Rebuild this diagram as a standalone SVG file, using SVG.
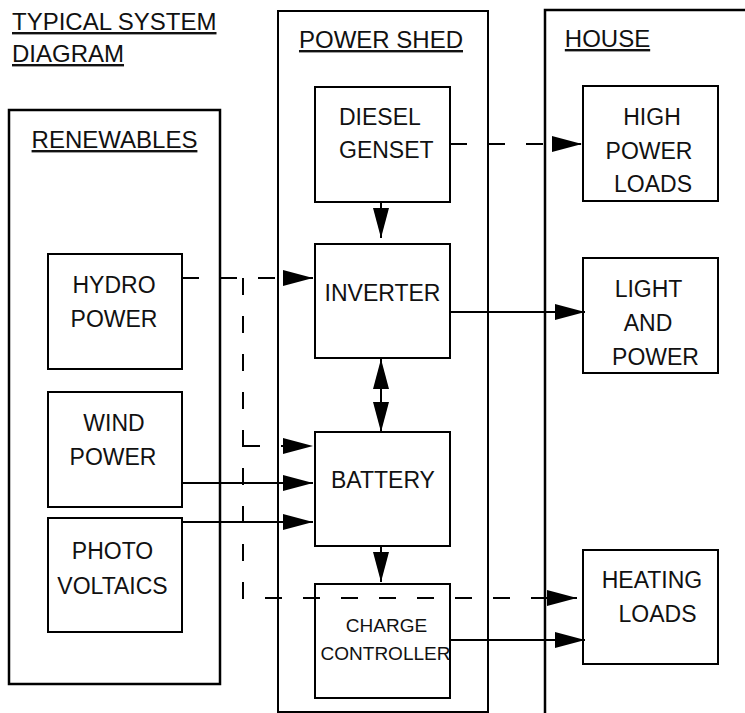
<svg xmlns="http://www.w3.org/2000/svg" width="745" height="713" viewBox="0 0 745 713">
<defs>
<style>
.box{fill:none;stroke:#000;stroke-width:2}
.frame{fill:none;stroke:#000;stroke-width:2.5}
text{font-family:"Liberation Sans",Arial,sans-serif;font-size:23px;fill:#111}
.h{font-size:24px;text-decoration:underline}
.m{text-anchor:middle}
.small{font-size:19px}
.ln{fill:none;stroke:#000;stroke-width:2}
.dash{stroke-dasharray:17 21}
</style>
<marker id="ah" viewBox="0 0 30 16" markerWidth="30" markerHeight="16" refX="30" refY="8" orient="auto-start-reverse" markerUnits="userSpaceOnUse">
<path d="M0,0 L30,8 L0,16 Z" fill="#000"/>
</marker>
</defs>
<rect width="745" height="713" fill="#fff"/>

<g id="title">
<text class="h" x="12" y="30">TYPICAL SYSTEM</text>
<text class="h" x="12" y="62">DIAGRAM</text>
</g>

<g id="renewables">
<rect class="frame" x="9" y="110" width="211" height="574"/>
<text class="h m" x="114.5" y="148">RENEWABLES</text>
</g>

<g id="power-shed">
<rect class="box" x="278" y="11" width="210" height="701"/>
<text class="h m" x="381" y="48">POWER SHED</text>
</g>

<g id="house">
<path class="frame" d="M545,713 V10 H745"/>
<text class="h m" x="607.5" y="47">HOUSE</text>
</g>

<g id="hydro-power">
<rect class="box" x="48" y="254" width="134" height="115"/>
<text class="m" x="114" y="293">HYDRO</text>
<text class="m" x="114" y="327">POWER</text>
</g>

<g id="wind-power">
<rect class="box" x="48" y="392" width="134" height="115"/>
<text class="m" x="114" y="431">WIND</text>
<text class="m" x="113" y="465">POWER</text>
</g>

<g id="photo-voltaics">
<rect class="box" x="48" y="518" width="134" height="114"/>
<text class="m" x="112.5" y="559">PHOTO</text>
<text class="m" x="112.5" y="594">VOLTAICS</text>
</g>

<g id="diesel-genset">
<rect class="box" x="315" y="87" width="135" height="115"/>
<text x="339" y="125">DIESEL</text>
<text x="339" y="158">GENSET</text>
</g>

<g id="inverter">
<rect class="box" x="315" y="244" width="135" height="114"/>
<text class="m" x="382.5" y="301">INVERTER</text>
</g>

<g id="battery">
<rect class="box" x="315" y="432" width="135" height="114"/>
<text class="m" x="383" y="488">BATTERY</text>
</g>

<g id="charge-controller">
<rect class="box" x="315" y="584" width="135" height="114"/>
<text class="m small" x="386.5" y="632">CHARGE</text>
<text class="m small" x="385.5" y="660">CONTROLLER</text>
</g>

<g id="high-power-loads">
<rect class="box" x="583" y="86" width="135" height="115"/>
<text class="m" x="652" y="125">HIGH</text>
<text class="m" x="649" y="159">POWER</text>
<text class="m" x="653" y="192">LOADS</text>
</g>

<g id="light-and-power">
<rect class="box" x="583" y="258" width="135" height="115"/>
<text class="m" x="648.5" y="297">LIGHT</text>
<text class="m" x="648" y="331">AND</text>
<text class="m" x="655.5" y="365">POWER</text>
</g>

<g id="heating-loads">
<rect class="box" x="583" y="550" width="135" height="114"/>
<text class="m" x="652" y="588">HEATING</text>
<text class="m" x="657.5" y="622">LOADS</text>
</g>

<g id="connectors">
<path class="ln dash" d="M182,278 H313" marker-end="url(#ah)"/>
<path class="ln dash" d="M243,278 V598 H577" marker-end="url(#ah)"/>
<path class="ln dash" d="M243,446 H313" marker-end="url(#ah)"/>
<path class="ln dash" d="M450,144 H582" marker-end="url(#ah)"/>
<path class="ln" d="M182,483 H313" marker-end="url(#ah)"/>
<path class="ln" d="M182,522 H313" marker-end="url(#ah)"/>
<path class="ln" d="M381,202 V238" marker-end="url(#ah)"/>
<path class="ln" d="M381,359 V432" marker-start="url(#ah)" marker-end="url(#ah)"/>
<path class="ln" d="M381,546 V582" marker-end="url(#ah)"/>
<path class="ln" d="M450,312 H585" marker-end="url(#ah)"/>
<path class="ln" d="M450,640 H585" marker-end="url(#ah)"/>
</g>
</svg>
